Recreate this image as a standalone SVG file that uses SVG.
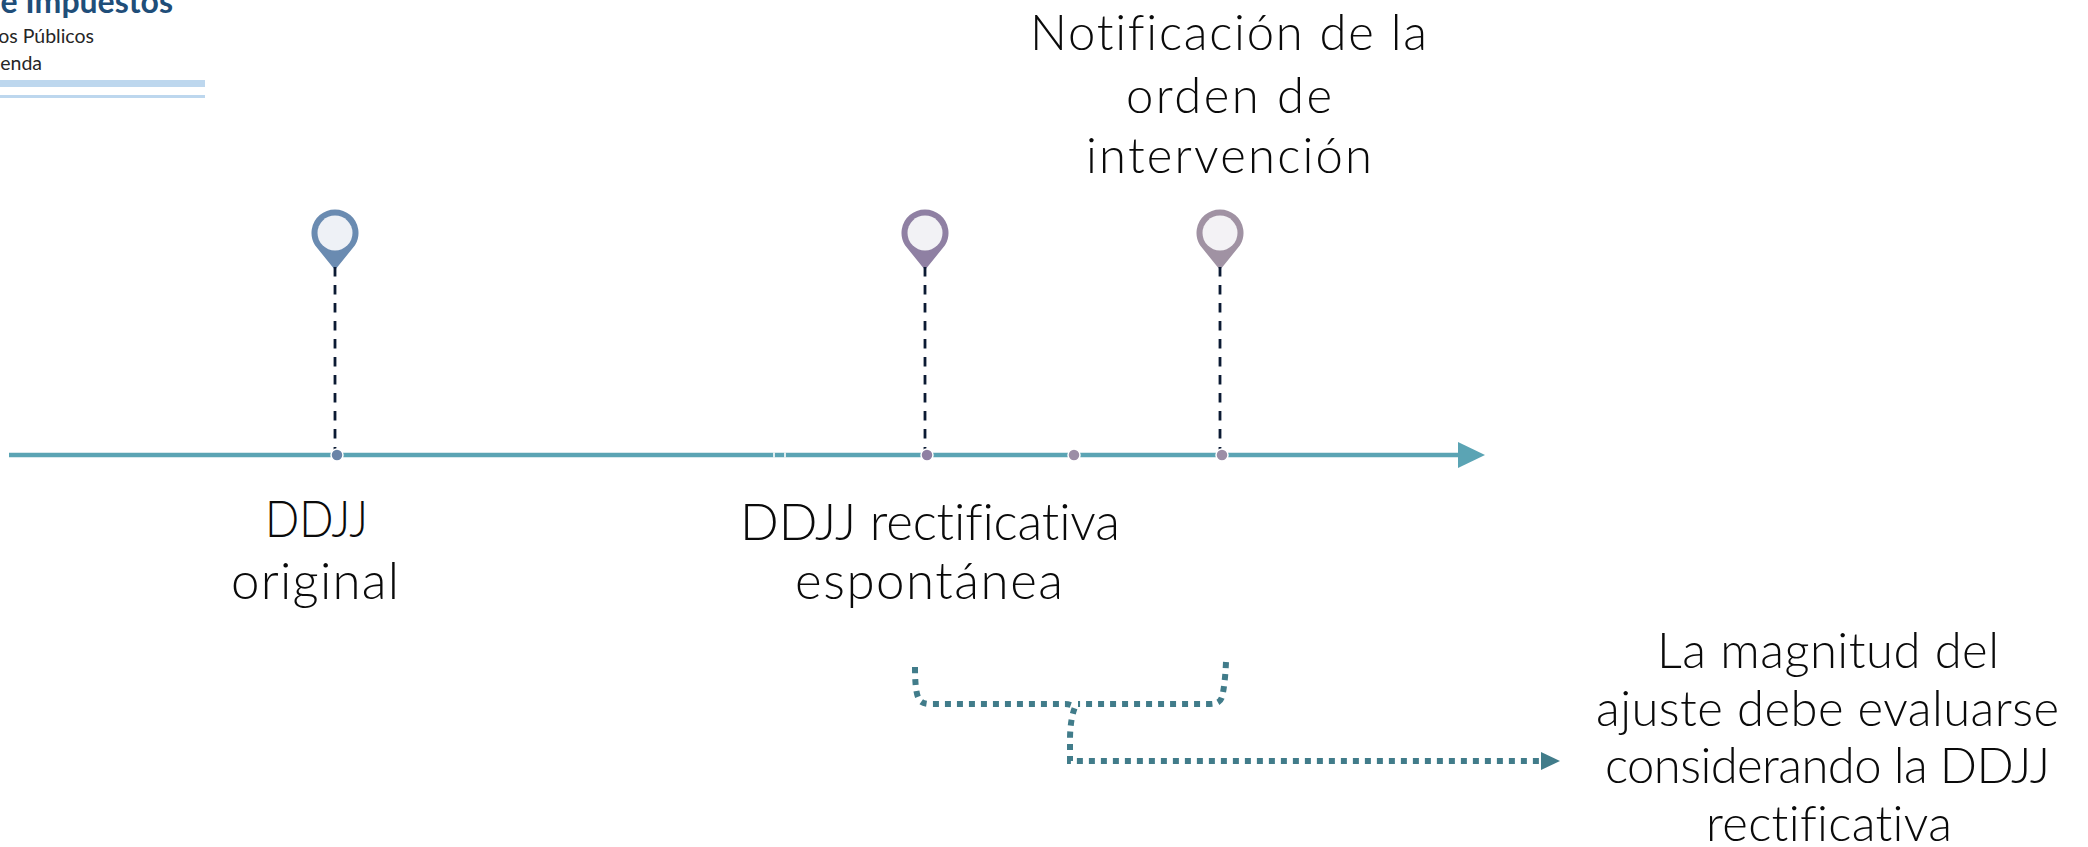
<svg xmlns="http://www.w3.org/2000/svg" width="2088" height="847" viewBox="0 0 2088 847">
<style>
.t{font-family:"Lato","Liberation Sans",sans-serif;font-weight:300;font-size:49px;fill:#0a0a0a;font-variant-ligatures:none}
.c{font-size:51px}
.l{font-family:"Lato","Liberation Sans",sans-serif;text-anchor:end;fill:#262626;font-size:19.5px}
.pin{stroke:none}
.inner{stroke:none}
.lead{fill:none;stroke:#0b1a33;stroke-width:2.8;stroke-dasharray:9.5 8.5}
.dot{stroke:#fff;stroke-width:1.5}
.dotted{fill:none;stroke:#417c8a;stroke-width:6;stroke-dasharray:6 6}
</style>
<rect width="2088" height="847" fill="#fff"/>
<g id="logo">
<rect x="0" y="80" width="205" height="7" fill="#bdd7ee"/>
<rect x="0" y="95" width="205" height="3" fill="#bdd7ee"/>
<text class="l" x="173" y="13" style="font-weight:700;font-size:32px;fill:#1f4e79">e Impuestos</text>
<text class="l" x="94" y="43">os Públicos</text>
<text class="l" x="42" y="70">enda</text>
</g>
<g id="connectors">
<path id="axis" d="M9 455H1460" stroke="#5ba4b4" stroke-width="4.5" fill="none"/>
<path d="M1458 442L1485 455L1458 468Z" fill="#5ba4b4"/>
<path d="M774 452.5V457.5M785 452.5V457.5" stroke="#fff" stroke-width="1.6"/>
<path class="dotted" d="M915 667Q915 690 918 697Q920 704 930 704H1065Q1070 704 1075 707Q1070 720 1070 740V761H1543"/>
<path class="dotted" d="M1226 662Q1225 685 1222 697Q1220 704 1210 704H1078"/>
<path d="M1541 752L1560 761L1541 770Z" fill="#417c8a"/>
</g>
<g id="pin1">
<path class="pin" d="M335 270L315 245.3A23.5 23.5 0 1 1 355 245.3Z" fill="#6a8bb1"/>
<circle class="inner" cx="335" cy="233" r="17.5" fill="#eef1f6"/>
<path class="lead" d="M335 267V450"/>
<circle class="dot" cx="337" cy="455" r="6" fill="#6a84a8"/>
<text class="t c" x="265" y="537" textLength="103" lengthAdjust="spacingAndGlyphs">DDJJ</text>
<text class="t c" x="231" y="599" textLength="168">original</text>
</g>
<g id="pin2">
<path class="pin" d="M925 270L905 245.3A23.5 23.5 0 1 1 945 245.3Z" fill="#8f80a3"/>
<circle class="inner" cx="925" cy="233" r="17.5" fill="#f2f2f5"/>
<path class="lead" d="M925 267V450"/>
<circle class="dot" cx="927" cy="455" r="6" fill="#8f80a3"/>
<text class="t c" x="740" y="540" textLength="380">DDJJ rectificativa</text>
<text class="t c" x="795" y="599" textLength="268">espontánea</text>
</g>
<g id="mid">
<circle class="dot" cx="1074" cy="455" r="6" fill="#9c8ea6"/>
</g>
<g id="pin3">
<path class="pin" d="M1220 270L1200 245.3A23.5 23.5 0 1 1 1240 245.3Z" fill="#a092a3"/>
<circle class="inner" cx="1220" cy="233" r="17.5" fill="#f3f2f5"/>
<path class="lead" d="M1220 267V450"/>
<circle class="dot" cx="1222" cy="455" r="6" fill="#9c8ea6"/>
<text class="t" x="1030" y="50" textLength="397">Notificación de la</text>
<text class="t" x="1126" y="113" textLength="206">orden de</text>
<text class="t" x="1086" y="173" textLength="286">intervención</text>
</g>
<g id="note">
<text class="t" x="1657" y="668" textLength="342">La magnitud del</text>
<text class="t" x="1596" y="726" textLength="463">ajuste debe evaluarse</text>
<text class="t" x="1605" y="783" textLength="445">considerando la DDJJ</text>
<text class="t" x="1706" y="841" textLength="246">rectificativa</text>
</g>
</svg>
